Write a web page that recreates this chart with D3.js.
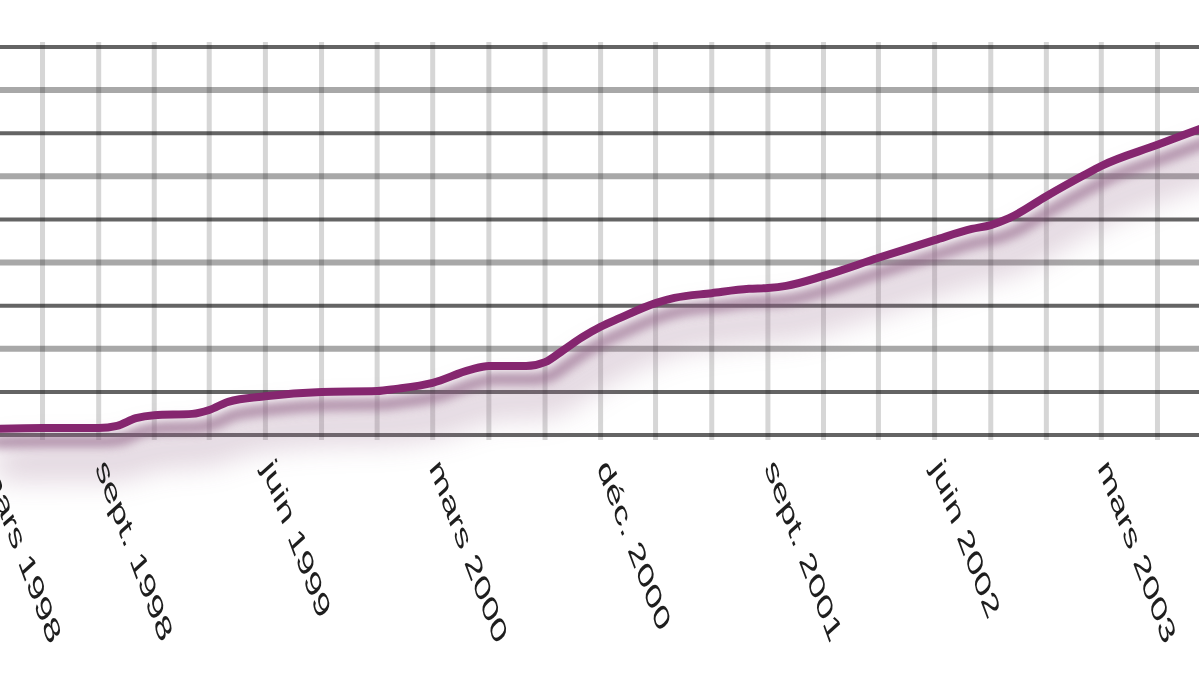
<!DOCTYPE html>
<html>
<head>
<meta charset="utf-8">
<script src="https://cdn.jsdelivr.net/npm/d3@7.9.0/dist/d3.min.js"></script>
<style>
  html, body { margin: 0; padding: 0; background: #fff; }
  svg { display: block; }
  .label { font-family: "Liberation Sans", Arial, sans-serif; fill: #1e1e1e; }
</style>
</head>
<body>
<svg id="chart" width="1199" height="675"></svg>
<script>
// monthly readings (month, value)
const dates = ['1998-03', '1998-06', '1998-09', '1998-10', '1998-11', '1998-12', '1999-02', '1999-03',
  '1999-04', '1999-06', '1999-09', '1999-12', '2000-01', '2000-03', '2000-05', '2000-06', '2000-08',
  '2000-09', '2000-10', '2000-11', '2000-12', '2001-01', '2001-03', '2001-04', '2001-06', '2001-08',
  '2001-09', '2001-10', '2001-12', '2002-03', '2002-06', '2002-08', '2002-09', '2002-10', '2002-12',
  '2003-02', '2003-03', '2003-06', '2003-09'];
const values = [1.4, 1.6, 1.6, 2.1, 3.9, 4.6, 4.9, 5.8,
  7.7, 9.0, 10.0, 10.2, 10.7, 12.1, 15.1, 16.0, 16.0,
  16.9, 19.7, 22.7, 25.1, 27.1, 30.6, 31.8, 32.9, 33.9,
  34.1, 34.6, 36.9, 41.1, 45.2, 47.8, 48.7, 50.3, 55.4,
  60.3, 62.4, 67.3, 72.2];

const tickDates = ['1998-03', '1998-09', '1999-06', '2000-03', '2000-12', '2001-09', '2002-06', '2003-03'];
const tickLabels = ['mars 1998', 'sept. 1998', 'juin 1999', 'mars 2000', 'déc. 2000', 'sept. 2001', 'juin 2002', 'mars 2003'];

const yTicks = [0, 10, 20, 30, 40, 50, 60, 70, 80, 90];

const parse = d3.timeParse('%Y-%m');
const data = dates.map((d, i) => ({ date: parse(d), value: values[i] }));

const svg = d3.select('#chart');

const x = d3.scaleTime()
    .domain([parse('1998-09'), parse('2003-03')])
    .range([98.7, 1101.3]);

const y = d3.scaleLinear()
    .domain([0, 90])
    .range([435, 47]);

const defs = svg.append('defs');
defs.append('filter').attr('id', 'blurNear')
    .attr('x', '-20%').attr('y', '-50%').attr('width', '140%').attr('height', '200%')
    .append('feGaussianBlur').attr('stdDeviation', 5);
defs.append('filter').attr('id', 'blurFar')
    .attr('x', '-20%').attr('y', '-50%').attr('width', '140%').attr('height', '200%')
    .append('feGaussianBlur').attr('stdDeviation', 16);

// horizontal grid
const grid = svg.append('g');
grid.selectAll('line.h')
    .data(yTicks)
    .join('line')
    .attr('class', 'h')
    .attr('x1', 0).attr('x2', 1199)
    .attr('y1', d => y(d)).attr('y2', d => y(d))
    .attr('stroke', d => (d === 0 || (d / 10) % 2 === 1) ? '#646464' : '#a8a8a8')
    .attr('stroke-width', d => (d === 0 || (d / 10) % 2 === 1) ? 4 : 6);

// vertical grid, every 3 months
const quarters = d3.timeMonth.range(parse('1998-03'), parse('2003-10'), 3);
grid.selectAll('line.v')
    .data(quarters)
    .join('line')
    .attr('class', 'v')
    .attr('x1', d => x(d)).attr('x2', d => x(d))
    .attr('y1', 42).attr('y2', 440)
    .attr('stroke', '#d6d6d6')
    .attr('stroke-width', 5)
    .style('mix-blend-mode', 'multiply');

const line = d3.line()
    .x(d => x(d.date))
    .y(d => y(d.value))
    .curve(d3.curveMonotoneX);

// drop shadow
svg.append('path')
    .datum(data)
    .attr('d', line)
    .attr('fill', 'none')
    .attr('stroke', '#9a7090')
    .attr('stroke-width', 28)
    .attr('opacity', 0.38)
    .attr('transform', 'translate(10,34)')
    .attr('filter', 'url(#blurFar)');

svg.append('path')
    .datum(data)
    .attr('d', line)
    .attr('fill', 'none')
    .attr('stroke', '#8a5a80')
    .attr('stroke-width', 13)
    .attr('opacity', 0.6)
    .attr('transform', 'translate(6,13)')
    .attr('filter', 'url(#blurNear)');

svg.append('path')
    .datum(data)
    .attr('d', line)
    .attr('fill', 'none')
    .attr('stroke', '#85266f')
    .attr('stroke-width', 8)
    .attr('stroke-linejoin', 'round');

// slanted axis labels
svg.append('g')
    .selectAll('text')
    .data(tickDates)
    .join('text')
    .attr('class', 'label')
    .attr('font-size', 22)
    .attr('transform', d => `translate(${x(parse(d)) - 4},468) scale(1,1.55) rotate(59.8) scale(1.28,1)`)
    .text((d, i) => tickLabels[i]);
</script>
</body>
</html>
